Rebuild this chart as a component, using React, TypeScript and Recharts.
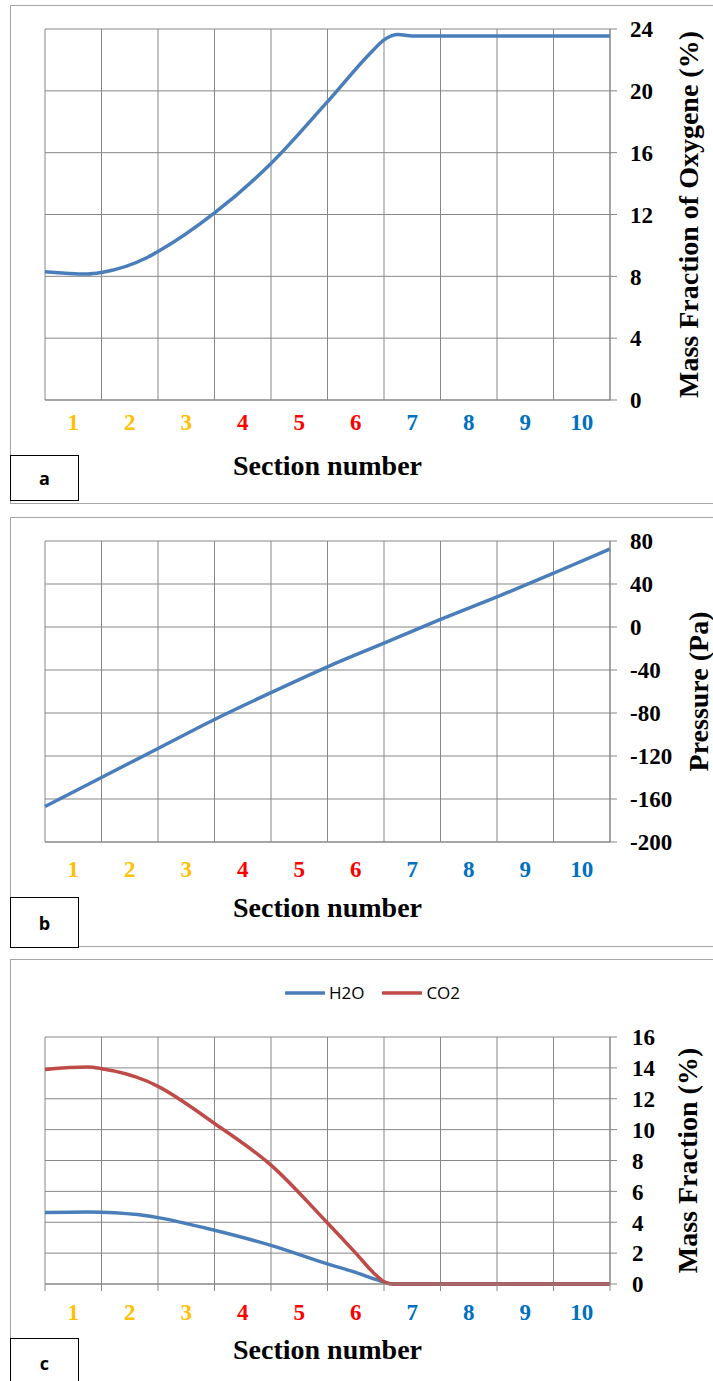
import React from 'react';
import { LineChart, Line, XAxis, YAxis, CartesianGrid, Legend } from 'recharts';

const SERIF = '"Liberation Serif", "Times New Roman", serif';
const SANS = '"Open Sans", "Liberation Sans", sans-serif';
const GRID = '#878787';
const BLUE = '#4A7EBB';
const RED = '#BE4B48';

// section labels sit between the gridlines, coloured by zone
const sections = ['1', '2', '3', '4', '5', '6', '7', '8', '9', '10'];
const sectionColors = ['#FFC000', '#FFC000', '#FFC000', '#FF0000', '#FF0000', '#FF0000', '#0070C0', '#0070C0', '#0070C0', '#0070C0'];
const sectionEdges = [0, 1, 2, 3, 4, 5, 6, 7, 8, 9, 10];

// a: oxygen mass fraction (%)
const oxygenAt = [0, 0.75, 1, 1.8, 2, 3, 4, 5, 5.8, 6, 6.25, 6.5, 7, 8, 9, 10];
const oxygen = [8.3, 8.15, 8.25, 9.2, 9.6, 12.1, 15.3, 19.3, 22.6, 23.3, 23.65, 23.55, 23.55, 23.55, 23.55, 23.55];
const oxygenTicks = [0, 4, 8, 12, 16, 20, 24];

// b: pressure (Pa)
const pressureAt = [0, 1, 2, 3, 4, 5, 6, 7, 8, 9, 10];
const pressure = [-167, -140, -113, -86, -61, -37, -15, 7, 28, 50, 72.5];
const pressureTicks = [-200, -160, -120, -80, -40, 0, 40, 80];

// c: H2O / CO2 mass fraction (%)
const speciesNames = ['H2O', 'CO2'];
const speciesAt = [0, 0.75, 1, 1.8, 2, 3, 4, 5, 5.5, 5.85, 6, 6.15, 7, 8, 9, 10];
const h2o = [4.63, 4.67, 4.65, 4.42, 4.3, 3.48, 2.5, 1.3, 0.75, 0.3, 0.12, 0, 0, 0, 0, 0];
const co2 = [13.9, 14.05, 13.95, 13.15, 12.8, 10.4, 7.7, 3.95, 2.0, 0.6, 0.15, 0, 0, 0, 0, 0];
const fractionTicks = [0, 2, 4, 6, 8, 10, 12, 14, 16];

const oxygenData = oxygenAt.map((x, i) => ({ x, v: oxygen[i] }));
const pressureData = pressureAt.map((x, i) => ({ x, v: pressure[i] }));
const speciesData = speciesAt.map((x, i) => ({ x, h2o: h2o[i], co2: co2[i] }));

const CHART_W = 713;
const MARGIN_L = 45;
const YAXIS_W = 103;
const PLOT_W = CHART_W - MARGIN_L - YAXIS_W;
const HALF_COL = PLOT_W / sections.length / 2;
const LINE_W = 3.5;

const SectionTick = (props: any) => {
  const { x, y, payload } = props;
  const i = payload.value - 1;
  if (i < 0) return <g />;
  return (
    <text x={x - HALF_COL} y={y} dy="0.71em" textAnchor="middle" fill={sectionColors[i]}
      fontFamily={SERIF} fontWeight="bold" fontSize={23}>
      {sections[i]}
    </text>
  );
};

const ValueTick = (props: any) => {
  const { x, y, payload } = props;
  return (
    <text x={x} y={y} dy="0.36em" textAnchor="start" fill="#000"
      fontFamily={SERIF} fontWeight="bold" fontSize={23}>
      {payload.value}
    </text>
  );
};

const xTitle = {
  value: 'Section number', position: 'insideBottom', offset: 15,
  fill: '#000', fontSize: 28, fontWeight: 'bold', fontFamily: SERIF,
};

const yTitle = (value: string, dx: number) => ({
  value, angle: -90, position: 'center', dx,
  fill: '#000', fontSize: 28, fontWeight: 'bold', fontFamily: SERIF,
});

const SpeciesLegend = ({ payload }: any) => {
  const items = speciesNames.map((n) => (payload || []).find((p: any) => p.value === n)).filter(Boolean);
  return (
    <div style={{ display: 'flex', justifyContent: 'center', alignItems: 'center', gap: 18, fontFamily: SANS, fontSize: 17 }}>
      {items.map((p: any) => (
        <div key={p.value} style={{ display: 'flex', alignItems: 'center' }}>
          <svg width={40} height={6}>
            <line x1={1} y1={3} x2={39} y2={3} stroke={p.color} strokeWidth={3.5} strokeLinecap="round" />
          </svg>
          <span style={{ marginLeft: 4, color: '#000' }}>{p.value}</span>
        </div>
      ))}
    </div>
  );
};

const frame = (top: number, height: number): React.CSSProperties => ({
  position: 'absolute', left: 10, top, width: 760, height, border: '1px solid #a6a6a6', boxSizing: 'border-box',
});

const letterBox = (top: number, height: number): React.CSSProperties => ({
  position: 'absolute', left: 10, top, width: 69, height, border: '1.3px solid #000', boxSizing: 'border-box',
  background: '#fff', display: 'flex', alignItems: 'center', justifyContent: 'center',
  fontFamily: SANS, fontWeight: 'bold', fontSize: 18, color: '#000',
});

export default function App() {
  return (
    <div style={{ position: 'absolute', left: 0, top: 0, width: 713, height: 1381, overflow: 'hidden', background: '#fff' }}>
      <div style={frame(5, 499)} />
      <div style={frame(517, 430)} />
      <div style={frame(959, 600)} />

      {/* a */}
      <div style={{ position: 'absolute', left: 0, top: 0 }}>
        <LineChart width={CHART_W} height={490} data={oxygenData} margin={{ top: 29, right: 0, bottom: 0, left: MARGIN_L }}>
          <CartesianGrid stroke={GRID} strokeWidth={1} />
          <XAxis dataKey="x" type="number" domain={[0, 10]} ticks={sectionEdges} interval={0}
            height={90} tickSize={0} tickMargin={14} tickLine={false} axisLine={{ stroke: GRID }}
            tick={SectionTick} label={xTitle} />
          <YAxis orientation="right" type="number" domain={[0, 24]} ticks={oxygenTicks} interval={0}
            width={YAXIS_W} tickSize={7} tickMargin={13} tickLine={{ stroke: GRID }} axisLine={{ stroke: GRID }}
            tick={ValueTick} label={yTitle('Mass Fraction of Oxygene (%)', 27)} />
          <Line dataKey="v" type="monotone" stroke={BLUE} strokeWidth={LINE_W} dot={false} isAnimationActive={false} />
        </LineChart>
      </div>

      {/* b */}
      <div style={{ position: 'absolute', left: 0, top: 512 }}>
        <LineChart width={CHART_W} height={420} data={pressureData} margin={{ top: 29, right: 0, bottom: 0, left: MARGIN_L }}>
          <CartesianGrid stroke={GRID} strokeWidth={1} />
          <XAxis dataKey="x" type="number" domain={[0, 10]} ticks={sectionEdges} interval={0}
            height={90} tickSize={0} tickMargin={19} tickLine={false} axisLine={{ stroke: GRID }}
            tick={SectionTick} label={xTitle} />
          <YAxis orientation="right" type="number" domain={[-200, 80]} ticks={pressureTicks} interval={0}
            width={YAXIS_W} tickSize={7} tickMargin={13} tickLine={{ stroke: GRID }} axisLine={{ stroke: GRID }}
            tick={ValueTick} label={yTitle('Pressure (Pa)', 37)} />
          <Line dataKey="v" type="monotone" stroke={BLUE} strokeWidth={LINE_W} dot={false} isAnimationActive={false} />
        </LineChart>
      </div>

      {/* c */}
      <div style={{ position: 'absolute', left: 0, top: 954 }}>
        <LineChart width={CHART_W} height={420} data={speciesData} margin={{ top: 83, right: 0, bottom: 0, left: MARGIN_L }}>
          <CartesianGrid stroke={GRID} strokeWidth={1} />
          <XAxis dataKey="x" type="number" domain={[0, 10]} ticks={sectionEdges} interval={0}
            height={90} tickSize={7} tickMargin={13} tickLine={{ stroke: GRID }} axisLine={{ stroke: GRID }}
            tick={SectionTick} label={xTitle} />
          <YAxis orientation="right" type="number" domain={[0, 16]} ticks={fractionTicks} interval={0}
            width={YAXIS_W} tickSize={7} tickMargin={15} tickLine={{ stroke: GRID }} axisLine={{ stroke: GRID }}
            tick={ValueTick} label={yTitle('Mass Fraction (%)', 26)} />
          <Legend layout="horizontal" verticalAlign="middle" align="center"
            wrapperStyle={{ top: 27, left: 16, width: 713 }} content={SpeciesLegend} />
          <Line dataKey="h2o" name="H2O" type="monotone" stroke={BLUE} strokeWidth={LINE_W} dot={false} isAnimationActive={false} />
          <Line dataKey="co2" name="CO2" type="monotone" stroke={RED} strokeWidth={LINE_W} dot={false} isAnimationActive={false} />
        </LineChart>
      </div>

      <div style={letterBox(455, 46)}>a</div>
      <div style={letterBox(897, 51)}>b</div>
      <div style={letterBox(1338, 50)}>c</div>
    </div>
  );
}
